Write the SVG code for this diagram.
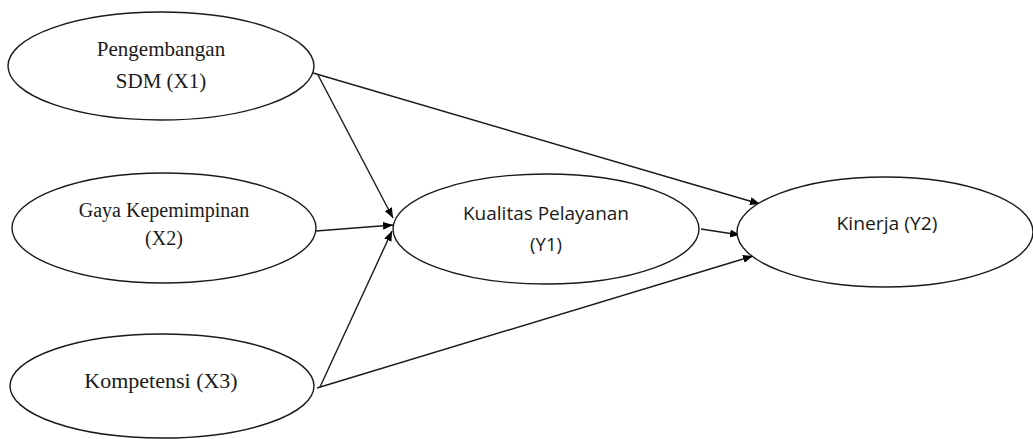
<svg xmlns="http://www.w3.org/2000/svg" width="1033" height="439" viewBox="0 0 1033 439">
  <style>
    .node ellipse { fill: #ffffff; stroke: #1a1a1a; stroke-width: 1.4; }
    .serif { font-family: "Liberation Serif", "Times New Roman", serif; fill: #1a1a1a; text-anchor: middle; }
    .sans { font-family: "Open Sans", "Noto Sans", "Liberation Sans", sans-serif; fill: #1a1a1a; text-anchor: middle; }
    .edge { stroke: #1a1a1a; stroke-width: 1.4; fill: none; marker-end: url(#arrow); }
  </style>
  <defs>
    <marker id="arrow" viewBox="0 0 10 8" refX="10" refY="4" markerWidth="10" markerHeight="8" markerUnits="userSpaceOnUse" orient="auto">
      <path d="M0,0 L10,4 L0,8 Z" fill="#000000"/>
    </marker>
  </defs>
  <rect width="1033" height="439" fill="#ffffff"/>

  <g id="connectors">
    <line class="edge" x1="318" y1="75" x2="393" y2="218"/>
    <line class="edge" x1="313" y1="73" x2="760" y2="204"/>
    <line class="edge" x1="316" y1="231" x2="393" y2="225"/>
    <line class="edge" x1="320" y1="387" x2="392" y2="231"/>
    <line class="edge" x1="317" y1="388" x2="753" y2="256"/>
    <line class="edge" x1="701" y1="229" x2="740" y2="235"/>
  </g>

  <g id="node-x1" class="node">
    <ellipse cx="161" cy="66" rx="153" ry="54"/>
    <text class="serif" x="161" y="56" font-size="21">Pengembangan</text>
    <text class="serif" x="161" y="88" font-size="21">SDM (X1)</text>
  </g>

  <g id="node-x2" class="node">
    <ellipse cx="164" cy="228" rx="152" ry="55"/>
    <text class="serif" x="164" y="217" font-size="20">Gaya Kepemimpinan</text>
    <text class="serif" x="164" y="245" font-size="20">(X2)</text>
  </g>

  <g id="node-x3" class="node">
    <ellipse cx="162" cy="386" rx="152" ry="52"/>
    <text class="serif" x="161" y="388" font-size="22">Kompetensi (X3)</text>
  </g>

  <g id="node-y1" class="node">
    <ellipse cx="546" cy="229" rx="153" ry="55"/>
    <text class="sans" x="546" y="220" font-size="18.5" textLength="166" lengthAdjust="spacingAndGlyphs">Kualitas Pelayanan</text>
    <text class="sans" x="546" y="251" font-size="18.5">(Y1)</text>
  </g>

  <g id="node-y2" class="node">
    <ellipse cx="885" cy="232" rx="148" ry="55"/>
    <text class="sans" x="887" y="230" font-size="18.5" textLength="101" lengthAdjust="spacingAndGlyphs">Kinerja (Y2)</text>
  </g>
</svg>
